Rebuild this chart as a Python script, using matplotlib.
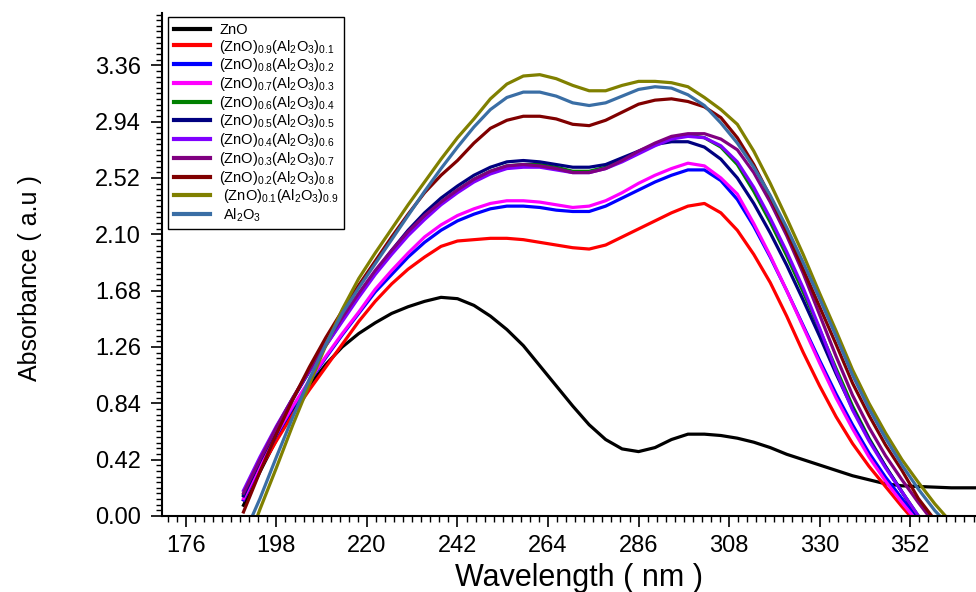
import numpy as np
import matplotlib
matplotlib.use("Agg")
import matplotlib.pyplot as plt
from matplotlib.ticker import MultipleLocator, AutoMinorLocator, FormatStrFormatter
from matplotlib import font_manager

plt.rcParams['font.family'] = ['Liberation Sans', 'DejaVu Sans']
plt.rcParams['mathtext.default'] = 'regular'

# wavelength grid (nm)
wavelength = np.arange(190, 371, 4)

# absorbance, one list per sample
zno = [0.08, 0.33, 0.57, 0.79, 0.97, 1.13, 1.26, 1.36, 1.44, 1.51, 1.56, 1.60, 1.63, 1.62,
       1.57, 1.49, 1.39, 1.27, 1.12, 0.97, 0.82, 0.68, 0.57, 0.50, 0.48, 0.51, 0.57, 0.61,
       0.61, 0.60, 0.58, 0.55, 0.51, 0.46, 0.42, 0.38, 0.34, 0.30, 0.27, 0.24, 0.225, 0.22,
       0.215, 0.21, 0.21, 0.21]
x01 = [0.12, 0.35, 0.56, 0.76, 0.94, 1.11, 1.28, 1.45, 1.60, 1.73, 1.84, 1.93, 2.01, 2.05,
       2.06, 2.07, 2.07, 2.06, 2.04, 2.02, 2.00, 1.99, 2.02, 2.08, 2.14, 2.20, 2.26, 2.31,
       2.33, 2.26, 2.13, 1.95, 1.74, 1.49, 1.22, 0.97, 0.74, 0.54, 0.37, 0.22, 0.07, -0.07,
       -0.2, -0.3, -0.4, -0.5]
x02 = [0.12, 0.37, 0.60, 0.81, 1.00, 1.18, 1.35, 1.51, 1.67, 1.80, 1.93, 2.04, 2.13, 2.20,
       2.25, 2.29, 2.31, 2.31, 2.30, 2.28, 2.27, 2.27, 2.31, 2.37, 2.43, 2.49, 2.54, 2.58,
       2.58, 2.50, 2.36, 2.16, 1.93, 1.68, 1.42, 1.16, 0.91, 0.68, 0.47, 0.29, 0.13, -0.02,
       -0.17, -0.3, -0.4, -0.5]
x03 = [0.13, 0.38, 0.61, 0.82, 1.01, 1.19, 1.36, 1.52, 1.69, 1.83, 1.96, 2.08, 2.17, 2.24,
       2.29, 2.33, 2.35, 2.35, 2.34, 2.32, 2.30, 2.31, 2.35, 2.41, 2.48, 2.54, 2.59, 2.63,
       2.61, 2.52, 2.40, 2.18, 1.94, 1.68, 1.41, 1.14, 0.88, 0.65, 0.44, 0.26, 0.10, -0.05,
       -0.2, -0.3, -0.4, -0.5]
x04 = [0.16, 0.42, 0.66, 0.88, 1.08, 1.27, 1.46, 1.64, 1.81, 1.96, 2.11, 2.23, 2.34, 2.43,
       2.51, 2.57, 2.61, 2.62, 2.62, 2.60, 2.57, 2.57, 2.60, 2.65, 2.71, 2.77, 2.82, 2.84,
       2.82, 2.75, 2.62, 2.42, 2.19, 1.94, 1.67, 1.39, 1.10, 0.82, 0.58, 0.37, 0.18, 0.0,
       -0.16, -0.3, -0.4, -0.5]
x05 = [0.15, 0.41, 0.65, 0.87, 1.08, 1.28, 1.47, 1.65, 1.82, 1.98, 2.13, 2.26, 2.37, 2.46,
       2.54, 2.60, 2.64, 2.65, 2.64, 2.62, 2.60, 2.60, 2.62, 2.67, 2.72, 2.77, 2.79, 2.79,
       2.75, 2.66, 2.52, 2.33, 2.11, 1.87, 1.61, 1.34, 1.06, 0.80, 0.57, 0.37, 0.18, -0.01,
       -0.18, -0.3, -0.4, -0.5]
x06 = [0.19, 0.44, 0.67, 0.88, 1.08, 1.27, 1.45, 1.63, 1.80, 1.95, 2.09, 2.21, 2.32, 2.41,
       2.49, 2.55, 2.59, 2.60, 2.60, 2.58, 2.56, 2.56, 2.59, 2.64, 2.70, 2.76, 2.81, 2.83,
       2.82, 2.76, 2.64, 2.45, 2.22, 1.97, 1.70, 1.40, 1.08, 0.79, 0.56, 0.36, 0.18, 0.0,
       -0.14, -0.3, -0.4, -0.5]
x07 = [0.17, 0.42, 0.66, 0.88, 1.09, 1.29, 1.48, 1.66, 1.83, 1.98, 2.12, 2.24, 2.34, 2.43,
       2.51, 2.57, 2.61, 2.62, 2.61, 2.59, 2.56, 2.56, 2.59, 2.65, 2.72, 2.78, 2.83, 2.85,
       2.85, 2.81, 2.73, 2.56, 2.34, 2.09, 1.81, 1.50, 1.19, 0.90, 0.66, 0.45, 0.27, 0.10,
       -0.06, -0.2, -0.3, -0.4]
x08 = [0.03, 0.33, 0.61, 0.87, 1.11, 1.33, 1.53, 1.72, 1.90, 2.08, 2.25, 2.41, 2.54, 2.65,
       2.78, 2.89, 2.95, 2.98, 2.98, 2.96, 2.92, 2.91, 2.95, 3.01, 3.07, 3.10, 3.11, 3.09,
       3.05, 2.97, 2.82, 2.62, 2.38, 2.12, 1.84, 1.56, 1.28, 0.99, 0.75, 0.53, 0.34, 0.13,
       -0.03, -0.1, -0.2, -0.3]
x09 = [-0.28, 0.05, 0.36, 0.68, 0.98, 1.27, 1.54, 1.77, 1.96, 2.14, 2.32, 2.49, 2.66, 2.82,
       2.96, 3.11, 3.22, 3.28, 3.29, 3.26, 3.21, 3.17, 3.17, 3.21, 3.24, 3.24, 3.23, 3.20,
       3.12, 3.03, 2.92, 2.72, 2.48, 2.22, 1.95, 1.66, 1.38, 1.09, 0.84, 0.62, 0.42, 0.25,
       0.09, -0.05, -0.12, -0.2]
al2o3 = [-0.15, 0.13, 0.44, 0.74, 1.02, 1.28, 1.51, 1.70, 1.88, 2.06, 2.24, 2.42, 2.59, 2.75,
         2.90, 3.03, 3.12, 3.16, 3.16, 3.13, 3.08, 3.06, 3.08, 3.13, 3.18, 3.20, 3.19, 3.14,
         3.06, 2.93, 2.78, 2.60, 2.39, 2.15, 1.89, 1.62, 1.34, 1.05, 0.80, 0.58, 0.38, 0.20,
         0.04, -0.09, -0.2, -0.3]

labels = ['ZnO',
          '(ZnO)$_{0.9}$(Al$_2$O$_3$)$_{0.1}$',
          '(ZnO)$_{0.8}$(Al$_2$O$_3$)$_{0.2}$',
          '(ZnO)$_{0.7}$(Al$_2$O$_3$)$_{0.3}$',
          '(ZnO)$_{0.6}$(Al$_2$O$_3$)$_{0.4}$',
          '(ZnO)$_{0.5}$(Al$_2$O$_3$)$_{0.5}$',
          '(ZnO)$_{0.4}$(Al$_2$O$_3$)$_{0.6}$',
          '(ZnO)$_{0.3}$(Al$_2$O$_3$)$_{0.7}$',
          '(ZnO)$_{0.2}$(Al$_2$O$_3$)$_{0.8}$',
          ' (ZnO)$_{0.1}$(Al$_2$O$_3$)$_{0.9}$',
          ' Al$_2$O$_3$']
colors = ['#000000', '#FF0000', '#0000FF', '#FF00FF', '#008000', '#000080',
          '#8000FF', '#800080', '#800000', '#808000', '#3A6EA5']
series = [zno, x01, x02, x03, x04, x05, x06, x07, x08, x09, al2o3]

fig = plt.figure(figsize=(9.76, 5.92), dpi=100)
ax = fig.add_axes([0.166, 0.1284, 0.834, 0.8497])

for y, lab, c in zip(series, labels, colors):
    ax.plot(wavelength, y, color=c, lw=2.3, label=lab, solid_joinstyle='round')

ax.set_xlim(170.2, 368)
ax.set_ylim(0, 3.75)
ax.xaxis.set_major_locator(MultipleLocator(22))
ax.xaxis.set_minor_locator(AutoMinorLocator(10))
ax.yaxis.set_major_locator(MultipleLocator(0.42))
ax.yaxis.set_minor_locator(AutoMinorLocator(10))
ax.yaxis.set_major_formatter(FormatStrFormatter('%.2f'))
ax.set_yticks(np.arange(0, 3.37, 0.42))

ax.spines['top'].set_visible(False)
ax.spines['right'].set_visible(False)
ax.spines['left'].set_linewidth(1.5)
ax.spines['bottom'].set_linewidth(1.5)
ax.tick_params(which='major', direction='out', length=8, width=1.2, labelsize=17, pad=6)
ax.tick_params(which='minor', direction='out', length=4.5, width=1.0)
ax.tick_params(axis='y', which='major', pad=7)

# y label in a narrow face if there is one
names = {f.name for f in font_manager.fontManager.ttflist}
if 'Liberation Sans Narrow' in names:
    ax.set_ylabel('Absorbance ( a.u )', family='Liberation Sans Narrow', fontsize=22)
else:
    ax.set_ylabel('Absorbance ( a.u )', fontsize=18)
ax.yaxis.set_label_coords(-0.148, 0.473)

ax.set_xlabel('Wavelength ( nm )', fontsize=22)
ax.xaxis.set_label_coords(0.512, -0.094)

leg = ax.legend(loc='upper left', bbox_to_anchor=(0.0074, 0.992), borderaxespad=0,
                fontsize=10.5, handlelength=2.5, handletextpad=0.6, labelspacing=0.05,
                borderpad=0.4, fancybox=False, framealpha=1, edgecolor='black')
leg.get_frame().set_linewidth(1.0)
for line in leg.get_lines():
    line.set_linewidth(3)

fig.savefig('out.png', dpi=100)
